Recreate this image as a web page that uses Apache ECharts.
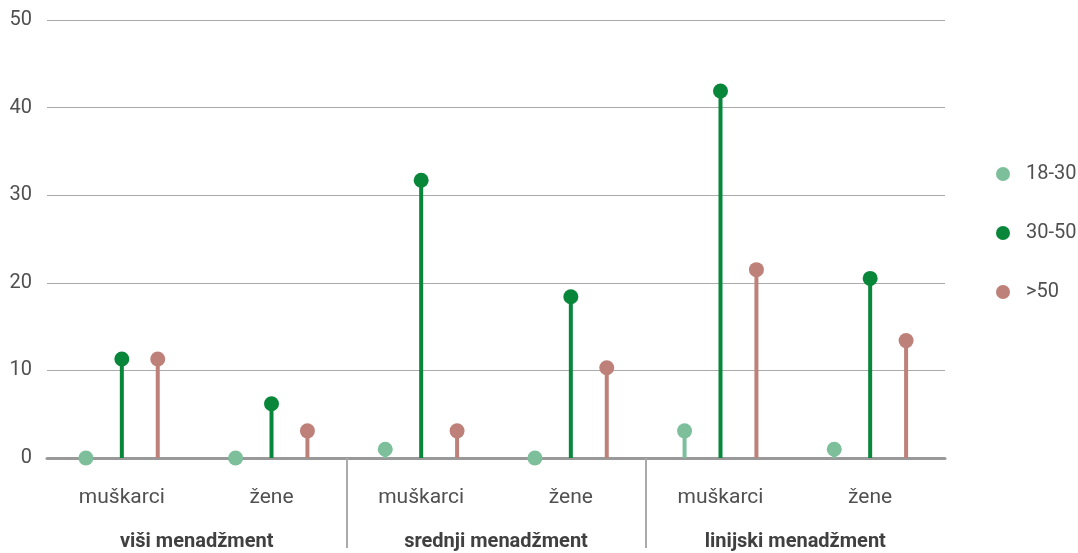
<!DOCTYPE html>
<html>
<head>
<meta charset="utf-8">
<script src="https://cdn.jsdelivr.net/npm/echarts@6/dist/echarts.min.js"></script>
<style>
  html, body { margin: 0; padding: 0; background: #fff; }
  #chart { width: 1078px; height: 553px; }
</style>
</head>
<body>
<div id="chart"></div>
<script>
// podaci
var categories = ['muškarci', 'žene', 'muškarci', 'žene', 'muškarci', 'žene'];
var groups = ['viši menadžment', 'srednji menadžment', 'linijski menadžment'];
var age18_30 = [0, 0, 1, 0, 3.1, 1];
var age30_50 = [11.3, 6.2, 31.7, 18.4, 41.9, 20.5];
var age50plus = [11.3, 3.1, 3.1, 10.3, 21.5, 13.4];
var seriesNames = ['18-30', '30-50', '>50'];
var colors = ['#7cbf9a', '#08873a', '#be8179'];

var chartDom = document.getElementById('chart');
var myChart = echarts.init(chartDom);

// lollipop: stem + dot, pomaknut unutar kategorije
function lollipop(offset) {
    return function (params, api) {
        var cat = api.value(0);
        var val = api.value(1);
        var base = api.coord([cat, 0]);
        var top = api.coord([cat, val]);
        var dx = api.size([1, 0])[0] * offset;
        var color = api.visual('color');
        return {
            type: 'group',
            children: [
                {
                    type: 'line',
                    shape: { x1: base[0] + dx, y1: base[1], x2: top[0] + dx, y2: top[1] },
                    style: { stroke: color, lineWidth: 4 }
                },
                {
                    type: 'circle',
                    shape: { cx: top[0] + dx, cy: top[1], r: 7.5 },
                    style: { fill: color }
                }
            ]
        };
    };
}

function toData(arr) {
    return arr.map(function (v, i) { return [i, v]; });
}

var option = {
    animation: false,
    textStyle: { fontFamily: 'Roboto' },
    legend: {
        orient: 'vertical',
        left: 991,
        top: 159,
        itemGap: 39,
        icon: 'circle',
        itemWidth: 14,
        itemHeight: 14,
        textStyle: { fontSize: 20, color: '#505050', padding: [0, 0, 0, 11] },
        data: seriesNames
    },
    grid: {
        left: 47,
        right: 133,
        top: 20,
        bottom: 95
    },
    xAxis: [
        {
            type: 'category',
            data: categories,
            axisLine: { lineStyle: { color: '#999', width: 3 } },
            axisTick: { show: false },
            axisLabel: { color: '#505050', fontSize: 21, margin: 29 }
        },
        {
            type: 'value',
            position: 'bottom',
            min: 0,
            max: 3,
            axisLine: { show: false },
            splitLine: { show: false },
            axisTick: {
                show: true,
                customValues: [1, 2],
                length: 90,
                lineStyle: { color: '#aaa', width: 2 }
            },
            axisLabel: {
                customValues: [0.5, 1.5, 2.5],
                formatter: function (v) { return groups[Math.floor(v)]; },
                color: '#404040',
                fontSize: 20,
                fontWeight: 'bold',
                margin: 74
            }
        }
    ],
    yAxis: {
        type: 'value',
        min: 0,
        max: 50,
        interval: 10,
        axisLine: { show: false },
        axisTick: { show: false },
        splitLine: { lineStyle: { color: '#aaa', width: 1 } },
        axisLabel: { color: '#505050', fontSize: 20, margin: 15 }
    },
    series: [
        {
            name: seriesNames[0],
            type: 'custom',
            renderItem: lollipop(-0.24),
            itemStyle: { color: colors[0] },
            encode: { x: 0, y: 1 },
            data: toData(age18_30)
        },
        {
            name: seriesNames[1],
            type: 'custom',
            renderItem: lollipop(0),
            itemStyle: { color: colors[1] },
            encode: { x: 0, y: 1 },
            data: toData(age30_50)
        },
        {
            name: seriesNames[2],
            type: 'custom',
            renderItem: lollipop(0.24),
            itemStyle: { color: colors[2] },
            encode: { x: 0, y: 1 },
            data: toData(age50plus)
        }
    ]
};

option && myChart.setOption(option);
</script>
</body>
</html>
